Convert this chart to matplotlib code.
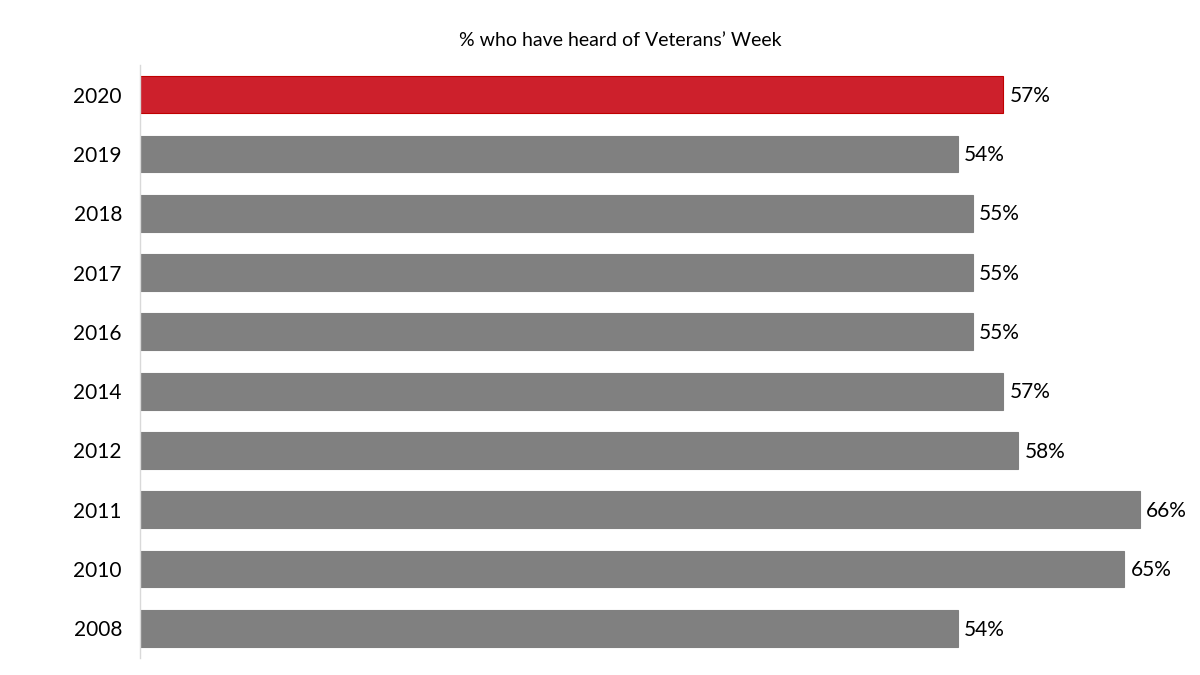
import matplotlib.pyplot as plt

years = ["2020", "2019", "2018", "2017", "2016", "2014", "2012", "2011", "2010", "2008"]
pct = [57, 54, 55, 55, 55, 57, 58, 66, 65, 54]
bar_colors = ["#CD202C"] + ["#808080"] * 9
edge_colors = ["#C00000"] + ["#808080"] * 9

plt.rcParams['font.family'] = ['Lato', 'DejaVu Sans']

fig = plt.figure(figsize=(12, 6.75), dpi=100)
ax = fig.add_axes([140 / 1200, 17 / 675, 1045 / 1200, 593 / 675])

pos = list(range(len(years)))
ax.barh(pos, pct, height=0.62, color=bar_colors, edgecolor=edge_colors, linewidth=0.8)

for p, v in zip(pos, pct):
    ax.text(v + 0.4, p + 0.02, f"{v}%", va="center", ha="left", fontsize=15, color="black")

ax.set_ylim(len(years) - 0.5, -0.5)
ax.set_xlim(0, 69)
ax.set_yticks(pos)
ax.set_yticklabels(years, fontsize=15)
ax.tick_params(axis="y", length=0, pad=13)
ax.set_xticks([])

for s in ["top", "right", "bottom"]:
    ax.spines[s].set_visible(False)
ax.spines["left"].set_color("#D9D9D9")
ax.spines["left"].set_linewidth(1)

fig.text(0.517, 1 - 40 / 675, "% who have heard of Veterans\u2019 Week",
         ha="center", va="center", fontsize=14)

fig.savefig("out.png", dpi=100)
